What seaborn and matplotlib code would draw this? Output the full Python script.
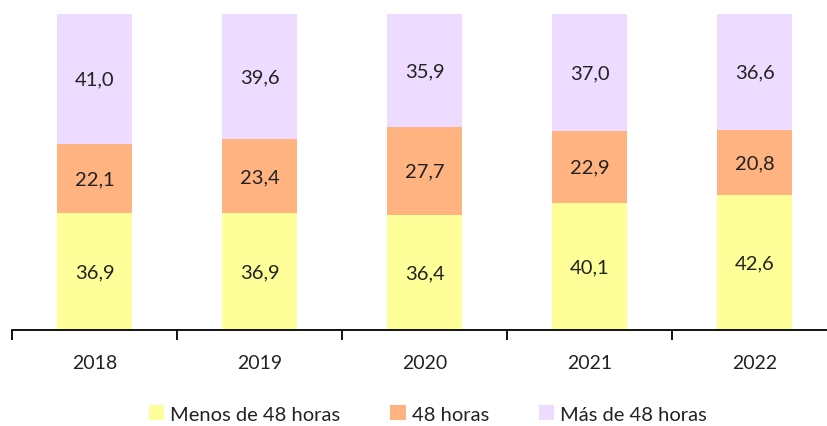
import matplotlib
matplotlib.use("Agg")
import matplotlib.pyplot as plt
import seaborn as sns
import pandas as pd
import numpy as np

years = ["2018", "2019", "2020", "2021", "2022"]
menos_48 = [36.9, 36.9, 36.4, 40.1, 42.6]
horas_48 = [22.1, 23.4, 27.7, 22.9, 20.8]
mas_48 = [41.0, 39.6, 35.9, 37.0, 36.6]

series = ["Menos de 48 horas", "48 horas", "Más de 48 horas"]
colores = ["#FFFF99", "#FFB380", "#EDDCFF"]

sns.set_style("white")
plt.rcParams['font.family'] = ['Lato', 'DejaVu Sans']

fig = plt.figure(figsize=(8.27, 4.27), dpi=100)
ax = fig.add_axes([12 / 827, 1 - 331 / 427, 825 / 827, 316 / 427])

df = pd.DataFrame({"year": years, series[0]: menos_48, series[1]: horas_48, series[2]: mas_48})
bottom = np.zeros(len(years))
for s, c in zip(series, colores):
    sns.barplot(x="year", y=s, data=df, color=c, width=0.455, bottom=bottom,
                ax=ax, label=s, saturation=1, linewidth=0)
    bottom = bottom + df[s].values

# etiquetas de valores
for cont in ax.containers:
    labels = [f"{v:.1f}".replace(".", ",") for v in cont.datavalues]
    ax.bar_label(cont, labels=labels, label_type="center", fontsize=14.5, color="#222222")

ax.set_xlim(-0.5, 4.5)
ax.set_ylim(0, 100)
ax.set_xlabel("")
ax.set_ylabel("")
ax.set_yticks([])
for side in ["top", "right", "left"]:
    ax.spines[side].set_visible(False)
ax.spines["bottom"].set_color("black")
ax.spines["bottom"].set_linewidth(1.3)

ax.set_xticks(range(len(years)))
ax.set_xticklabels(years, fontsize=14, color="#222222")
ax.tick_params(axis="x", which="major", length=0, pad=17)
ax.set_xticks(np.arange(-0.5, 5, 1), minor=True)
ax.tick_params(axis="x", which="minor", bottom=True, length=7, width=1.3, color="black", direction="out")

handles, labs = ax.get_legend_handles_labels()
if ax.get_legend() is not None:
    ax.get_legend().remove()
fig.legend(handles, labs, loc="center", bbox_to_anchor=(428 / 827, 1 - 415 / 427), ncol=3,
           frameon=False, fontsize=14.5, handlelength=0.75, handleheight=0.75,
           handletextpad=0.3, columnspacing=2.5, labelcolor="#222222", borderpad=0)

fig.savefig("out.png", dpi=100)
